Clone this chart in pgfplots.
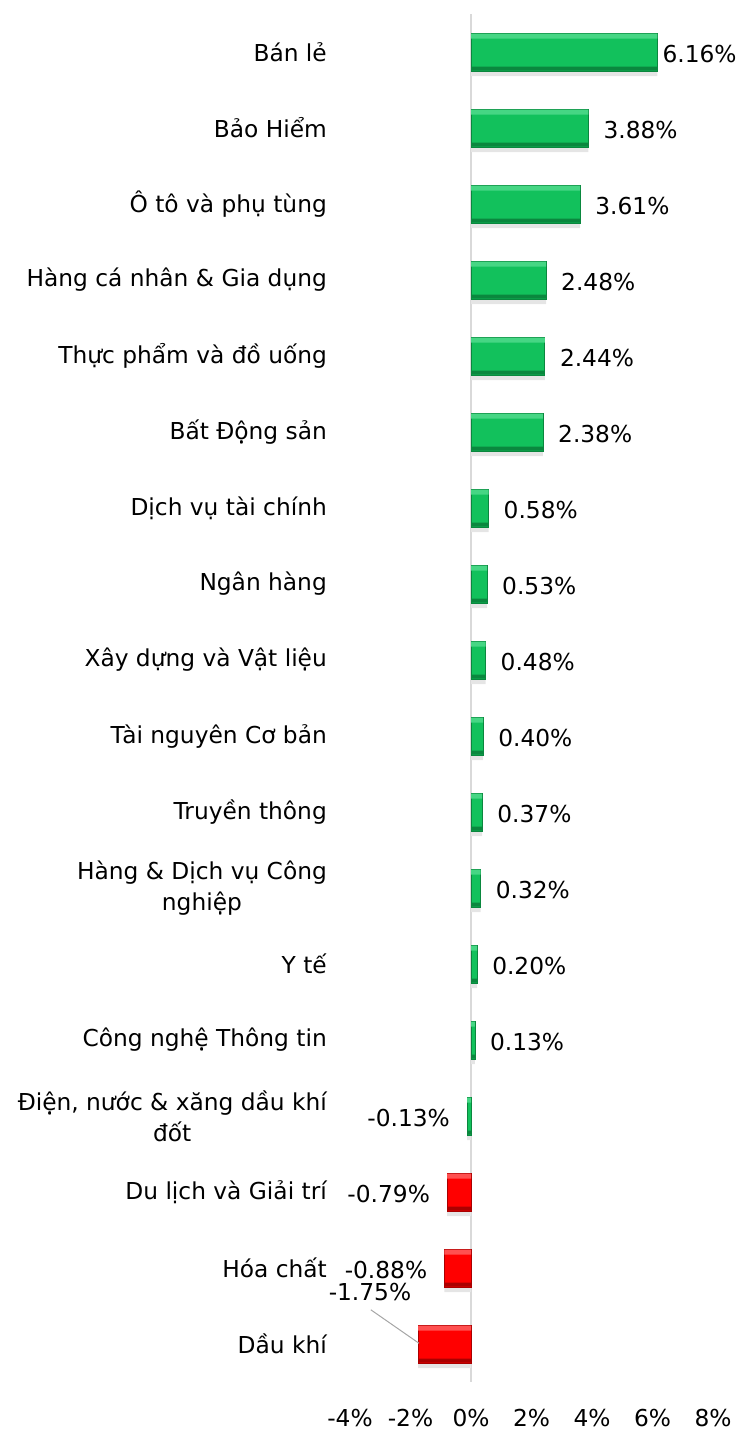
\documentclass[border=0pt]{standalone}
\usepackage{fontspec}
\setmainfont{DejaVu Sans}
\usepackage{pgfplots}
\usepackage{pgfplotstable}
\pgfplotsset{compat=1.18}
\definecolor{gmain}{RGB}{18,193,92}
\definecolor{gdark}{RGB}{10,135,62}
\definecolor{glight}{RGB}{70,214,132}
\definecolor{rmain}{RGB}{255,0,0}
\definecolor{rdark}{RGB}{170,0,0}
\definecolor{rlight}{RGB}{255,80,80}
\pgfplotstableread{
y x
0 6.16
1 3.88
2 3.61
3 2.48
4 2.44
5 2.38
6 0.58
7 0.53
8 0.48
9 0.40
10 0.37
11 0.32
12 0.20
13 0.13
14 -0.13
}\pos
\pgfplotstableread{
y x
15 -0.79
16 -0.88
17 -1.75
}\neg
\pgfplotstableread{
y x
1 3.88
2 3.61
3 2.48
4 2.44
5 2.38
6 0.58
7 0.53
8 0.48
9 0.40
10 0.37
11 0.32
12 0.20
13 0.13
}\poslab
\pgfplotstableread{
y x
14 -0.13
15 -0.79
16 -0.88
}\neglab
\newcommand{\F}{\fontsize{23.3bp}{31bp}\selectfont}
\begin{document}
\F
\begin{tikzpicture}
\path[use as bounding box] (0,0) rectangle (743bp,1430bp);
\begin{axis}[
  at={(350bp,48bp)}, anchor=south west,
  scale only axis, width=363bp, height=1368bp,
  xmin=-4, xmax=8, ymin=-0.5, ymax=17.5,
  y dir=reverse,
  clip=false,
  axis lines*=left,
  axis line style={draw=none},
  major tick length=0pt,
  /pgf/number format/assume math mode=true,
  xtick={-4,-2,0,2,4,6,8},
  xticklabels={-4\%,-2\%,0\%,2\%,4\%,6\%,8\%},
  xticklabel style={anchor=base, inner sep=0pt, yshift=-44bp, font=\F},
  ytick={0,...,17},
  yticklabels={{Bán lẻ},{Bảo Hiểm},{Ô tô và phụ tùng},{Hàng cá nhân \& Gia dụng},{Thực phẩm và đồ uống},{Bất Động sản},{Dịch vụ tài chính},{Ngân hàng},{Xây dựng và Vật liệu},{Tài nguyên Cơ bản},{Truyền thông},{Hàng \& Dịch vụ Công\\nghiệp},{Y tế},{Công nghệ Thông tin},{Điện, nước \& xăng dầu khí\\đốt},{Du lịch và Giải trí},{Hóa chất},{Dầu khí}},
  yticklabel style={anchor=east, inner sep=0pt, xshift=-23bp, align=center, font=\F},
  extra x ticks={0},
  extra x tick labels={},
  extra x tick style={grid=major, major grid style={draw=black!15, line width=2bp}},
  nodes near coords style={font=\F, inner sep=0pt},
]
% shadows
\addplot[xbar, bar width=38bp, bar shift=-5bp, fill=black!10, draw=none] table[x=x,y=y] {\pos};
\addplot[xbar, bar width=38bp, bar shift=-5bp, fill=black!10, draw=none] table[x=x,y=y] {\neg};
% main bars
\addplot[xbar, bar width=38bp, bar shift=0pt, fill=gmain, draw=gdark, line width=0.8bp] table[x=x,y=y] {\pos};
\addplot[xbar, bar width=38bp, bar shift=0pt, fill=rmain, draw=rdark, line width=0.8bp] table[x=x,y=y] {\neg};
% bevel strips
\addplot[xbar, bar width=5bp, bar shift=16bp, fill=glight, draw=none] table[x=x,y=y] {\pos};
\addplot[xbar, bar width=4bp, bar shift=-16.5bp, fill=gdark, draw=none] table[x=x,y=y] {\pos};
\addplot[xbar, bar width=5bp, bar shift=16bp, fill=rlight, draw=none] table[x=x,y=y] {\neg};
\addplot[xbar, bar width=4bp, bar shift=-16.5bp, fill=rdark, draw=none] table[x=x,y=y] {\neg};
% data labels
\addplot[only marks, mark=none, point meta=x,
  nodes near coords={\pgfmathprintnumber[fixed,fixed zerofill,precision=2]{\pgfplotspointmeta}\%},
  nodes near coords style={anchor=west, xshift=15bp, yshift=-2bp}]
  table[x=x,y=y] {\poslab};
\addplot[only marks, mark=none, point meta=explicit,
  nodes near coords={\pgfmathprintnumber[fixed,fixed zerofill,precision=2]{\pgfplotspointmeta}\%},
  nodes near coords style={anchor=west, xshift=5bp, yshift=-2bp}]
  coordinates {(6.16,0) [6.16]};
\addplot[only marks, mark=none, point meta=x,
  nodes near coords={\pgfmathprintnumber[fixed,fixed zerofill,precision=2]{\pgfplotspointmeta}\%},
  nodes near coords style={anchor=east, xshift=-17bp, yshift=-2bp}]
  table[x=x,y=y] {\neglab};
\addplot[only marks, mark=none, point meta=explicit,
  nodes near coords={\pgfmathprintnumber[fixed,fixed zerofill,precision=2]{\pgfplotspointmeta}\%},
  nodes near coords style={anchor=center}]
  coordinates {(-3.34,16.32) [-1.75]};
\addplot[black!35, line width=1bp, mark=none] coordinates {(-3.31,16.55) (-1.72,16.99)};
\end{axis}
\end{tikzpicture}
\end{document}
